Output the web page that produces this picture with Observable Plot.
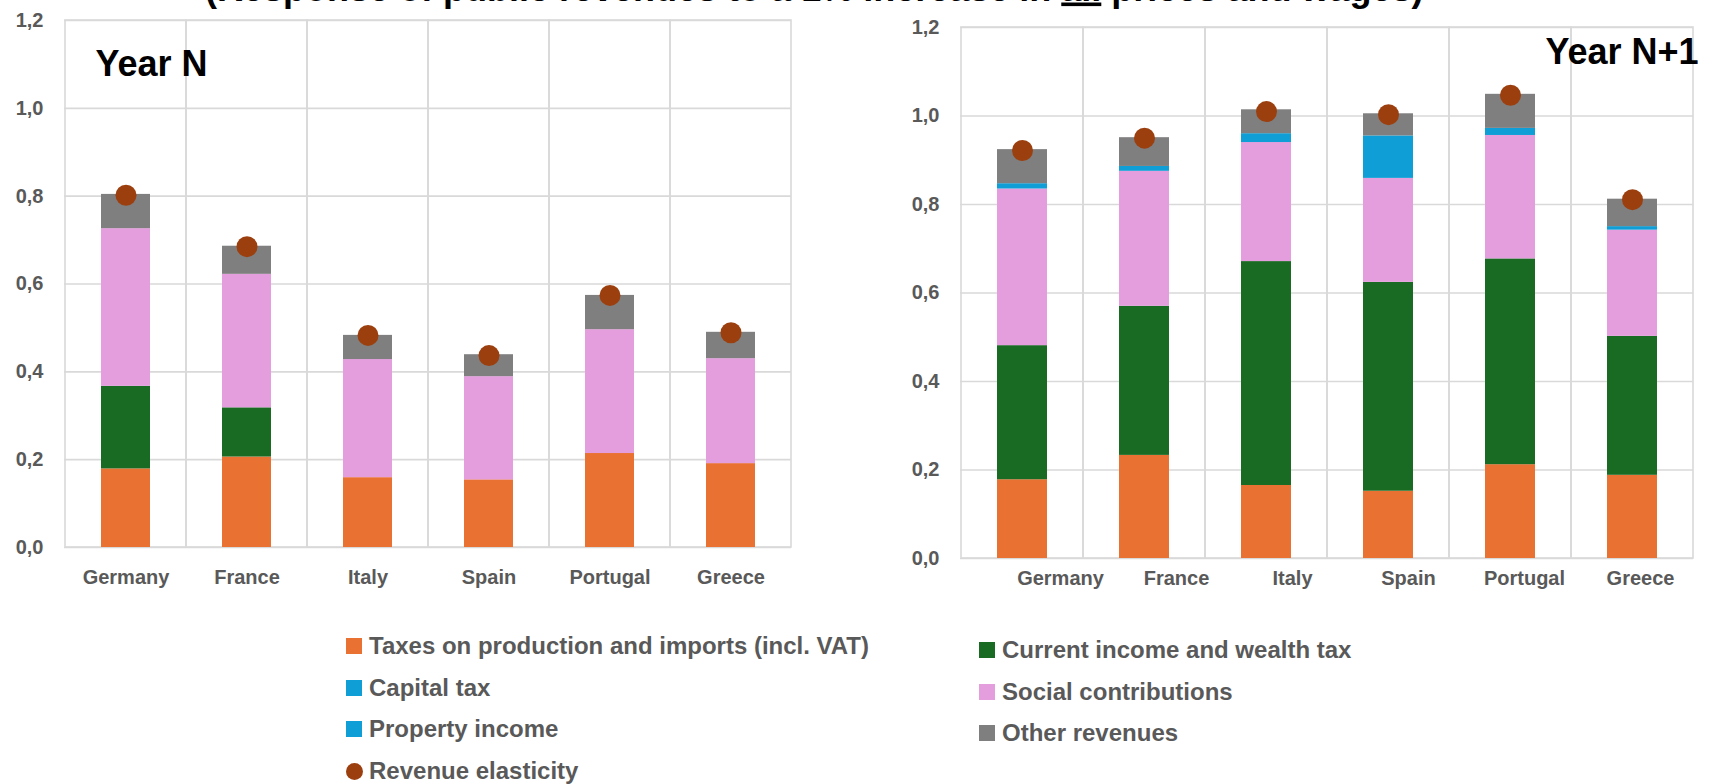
<!DOCTYPE html>
<html>
<head>
<meta charset="utf-8">
<script src="https://cdn.jsdelivr.net/npm/d3@7"></script>
<script src="https://cdn.jsdelivr.net/npm/@observablehq/plot@0.6"></script>
<style>
  html, body { margin: 0; padding: 0; background: #fff; }
  #page { position: relative; width: 1713px; height: 784px; overflow: hidden;
          font-family: "Liberation Sans", Arial, sans-serif; }
  #page svg { position: absolute; }
  .legend-item { position: absolute; display: flex; align-items: center; height: 30px;
                 font-size: 24px; font-weight: bold; color: #595959; white-space: nowrap; }
  .legend-swatch { width: 16px; height: 16px; margin-right: 7px; flex: none; }
  .legend-dot { width: 17px; height: 17px; border-radius: 50%; margin-right: 6px; flex: none; }
</style>
</head>
<body>
<div id="page"></div>
<script>
// Countries on the x axis
const countries = ["Germany", "France", "Italy", "Spain", "Portugal", "Greece"];

// Revenue components, stacked bottom to top
const seriesNames = [
  "Taxes on production and imports (incl. VAT)",
  "Current income and wealth tax",
  "Capital tax",
  "Social contributions",
  "Property income",
  "Other revenues"
];
const seriesColors = ["#E97132", "#196B24", "#0F9ED5", "#E49EDD", "#0F9ED5", "#7F7F7F"];
const elasticityName = "Revenue elasticity";
const elasticityColor = "#9C3F0F";

// Year N contributions
const taxesN    = [0.179, 0.206, 0.159, 0.154, 0.214, 0.191];
const incomeN   = [0.188, 0.112, 0.000, 0.000, 0.000, 0.000];
const capitalN  = [0.000, 0.000, 0.000, 0.000, 0.000, 0.000];
const socialN   = [0.359, 0.304, 0.269, 0.235, 0.282, 0.239];
const propertyN = [0.000, 0.000, 0.000, 0.000, 0.000, 0.000];
const otherN    = [0.078, 0.064, 0.055, 0.050, 0.078, 0.060];
const elasticityN = [0.802, 0.685, 0.483, 0.437, 0.574, 0.489];

// Year N+1 contributions
const taxesN1    = [0.178, 0.233, 0.165, 0.152, 0.212, 0.188];
const incomeN1   = [0.303, 0.337, 0.506, 0.472, 0.465, 0.314];
const capitalN1  = [0.000, 0.000, 0.000, 0.000, 0.000, 0.000];
const socialN1   = [0.354, 0.305, 0.269, 0.235, 0.279, 0.240];
const propertyN1 = [0.012, 0.011, 0.020, 0.096, 0.016, 0.008];
const otherN1    = [0.077, 0.065, 0.054, 0.050, 0.077, 0.062];
const elasticityN1 = [0.922, 0.950, 1.010, 1.003, 1.047, 0.811];

const yTicks = [0, 0.2, 0.4, 0.6, 0.8, 1.0, 1.2];
const titleText = ["(Response of public revenues to a 1% increase in ", "all", " prices and wages)"];

const fmt = d => d.toFixed(1).replace(".", ",");
const font = '"Liberation Sans", Arial, sans-serif';

function toRows(columns) {
  const rows = [];
  countries.forEach((c, i) => {
    columns.forEach((col, s) => rows.push({country: c, series: seriesNames[s], value: col[i]}));
  });
  return rows;
}

function chart({columns, elasticity, label, labelAnchor, labelDx, labelDy, width, height,
                marginLeft, marginRight, marginTop, marginBottom, showX}) {
  const rows = toRows(columns);
  const dots = countries.map((c, i) => ({country: c, value: elasticity[i]}));
  return Plot.plot({
    width, height, marginLeft, marginRight, marginTop, marginBottom,
    style: {fontFamily: font, color: "#595959", background: "transparent", overflow: "visible"},
    x: {domain: countries, padding: 0, label: null, axis: showX ? undefined : null},
    y: {domain: [0, 1.2], label: null},
    color: {domain: seriesNames, range: seriesColors},
    marks: [
      Plot.gridY(yTicks, {stroke: "#D9D9D9", strokeOpacity: 1, strokeWidth: 1.6}),
      Plot.cell(countries, {x: d => d, fill: "none", stroke: "#D9D9D9", strokeWidth: 1.6}),
      Plot.barY(rows, {x: "country", y: "value", fill: "series", insetLeft: 36, insetRight: 36}),
      Plot.dot(dots, {x: "country", y: "value", r: 10.5, fill: elasticityColor}),
      Plot.axisY({ticks: yTicks, tickFormat: fmt, tickSize: 0, tickPadding: 21,
                  fontSize: 20, fontWeight: "bold", label: null}),
      showX ? Plot.axisX({tickSize: 0, tickPadding: 22, fontSize: 20, fontWeight: "bold", label: null}) : null,
      Plot.text([label], {frameAnchor: labelAnchor, text: d => d, lineAnchor: "top",
                          textAnchor: labelAnchor === "top-left" ? "start" : "end",
                          dx: labelDx, dy: labelDy, fontSize: 36, fontWeight: "bold", fill: "#000"})
    ]
  });
}

const page = document.getElementById("page");

const left = chart({
  columns: [taxesN, incomeN, capitalN, socialN, propertyN, otherN],
  elasticity: elasticityN, label: "Year N", labelAnchor: "top-left", labelDx: 31, labelDy: 30,
  width: 830, height: 600, marginLeft: 64, marginRight: 39, marginTop: 20, marginBottom: 53, showX: true
});
left.style.left = "0px"; left.style.top = "0px";
page.appendChild(left);

const right = chart({
  columns: [taxesN1, incomeN1, capitalN1, socialN1, propertyN1, otherN1],
  elasticity: elasticityN1, label: "Year N+1", labelAnchor: "top-right", labelDx: 5, labelDy: 11,
  width: 853, height: 600, marginLeft: 100, marginRight: 20, marginTop: 27, marginBottom: 42, showX: false
});
right.style.left = "860px"; right.style.top = "0px";
page.appendChild(right);

// Category labels of the second panel sit on their own, slightly narrower band
const rightLabels = Plot.plot({
  width: 853, height: 40, marginTop: 0, marginBottom: 38, marginLeft: 0, marginRight: 0,
  style: {fontFamily: font, color: "#595959", background: "transparent", overflow: "visible"},
  x: {type: "band", domain: countries, range: [140, 840], padding: 0, label: null},
  marks: [Plot.axisX({tickSize: 0, tickPadding: 8, fontSize: 20, fontWeight: "bold", label: null})]
});
rightLabels.style.left = "860px"; rightLabels.style.top = "560px";
page.appendChild(rightLabels);

// Title line, mostly above the top edge
const ns = "http://www.w3.org/2000/svg";
const titleSvg = document.createElementNS(ns, "svg");
titleSvg.setAttribute("width", 1713);
titleSvg.setAttribute("height", 14);
titleSvg.style.left = "0px"; titleSvg.style.top = "0px"; titleSvg.style.overflow = "visible";
const title = document.createElementNS(ns, "text");
title.setAttribute("x", 205);
title.setAttribute("y", 0.5);
title.setAttribute("font-family", font);
title.setAttribute("font-size", 36);
title.setAttribute("font-weight", "bold");
title.setAttribute("fill", "#000");
titleText.forEach((t, i) => {
  const span = document.createElementNS(ns, "tspan");
  span.textContent = t;
  if (i === 1) span.setAttribute("text-decoration", "underline");
  title.appendChild(span);
});
titleSvg.appendChild(title);
page.appendChild(titleSvg);

// Legend below the panels
const legendEntries = [
  {name: seriesNames[0], color: seriesColors[0], col: 0, row: 0},
  {name: seriesNames[2], color: seriesColors[2], col: 0, row: 1},
  {name: seriesNames[4], color: seriesColors[4], col: 0, row: 2},
  {name: elasticityName, color: elasticityColor, col: 0, row: 3, dot: true},
  {name: seriesNames[1], color: seriesColors[1], col: 1, row: 0},
  {name: seriesNames[3], color: seriesColors[3], col: 1, row: 1},
  {name: seriesNames[5], color: seriesColors[5], col: 1, row: 2}
];
const colX = [346, 979];
const colY = [631, 635];
legendEntries.forEach(e => {
  const item = document.createElement("div");
  item.className = "legend-item";
  item.style.left = colX[e.col] + "px";
  item.style.top = (colY[e.col] + e.row * 41.7) + "px";
  const sw = document.createElement("span");
  sw.className = e.dot ? "legend-dot" : "legend-swatch";
  sw.style.background = e.color;
  item.appendChild(sw);
  item.appendChild(document.createTextNode(e.name));
  page.appendChild(item);
});
</script>
</body>
</html>
